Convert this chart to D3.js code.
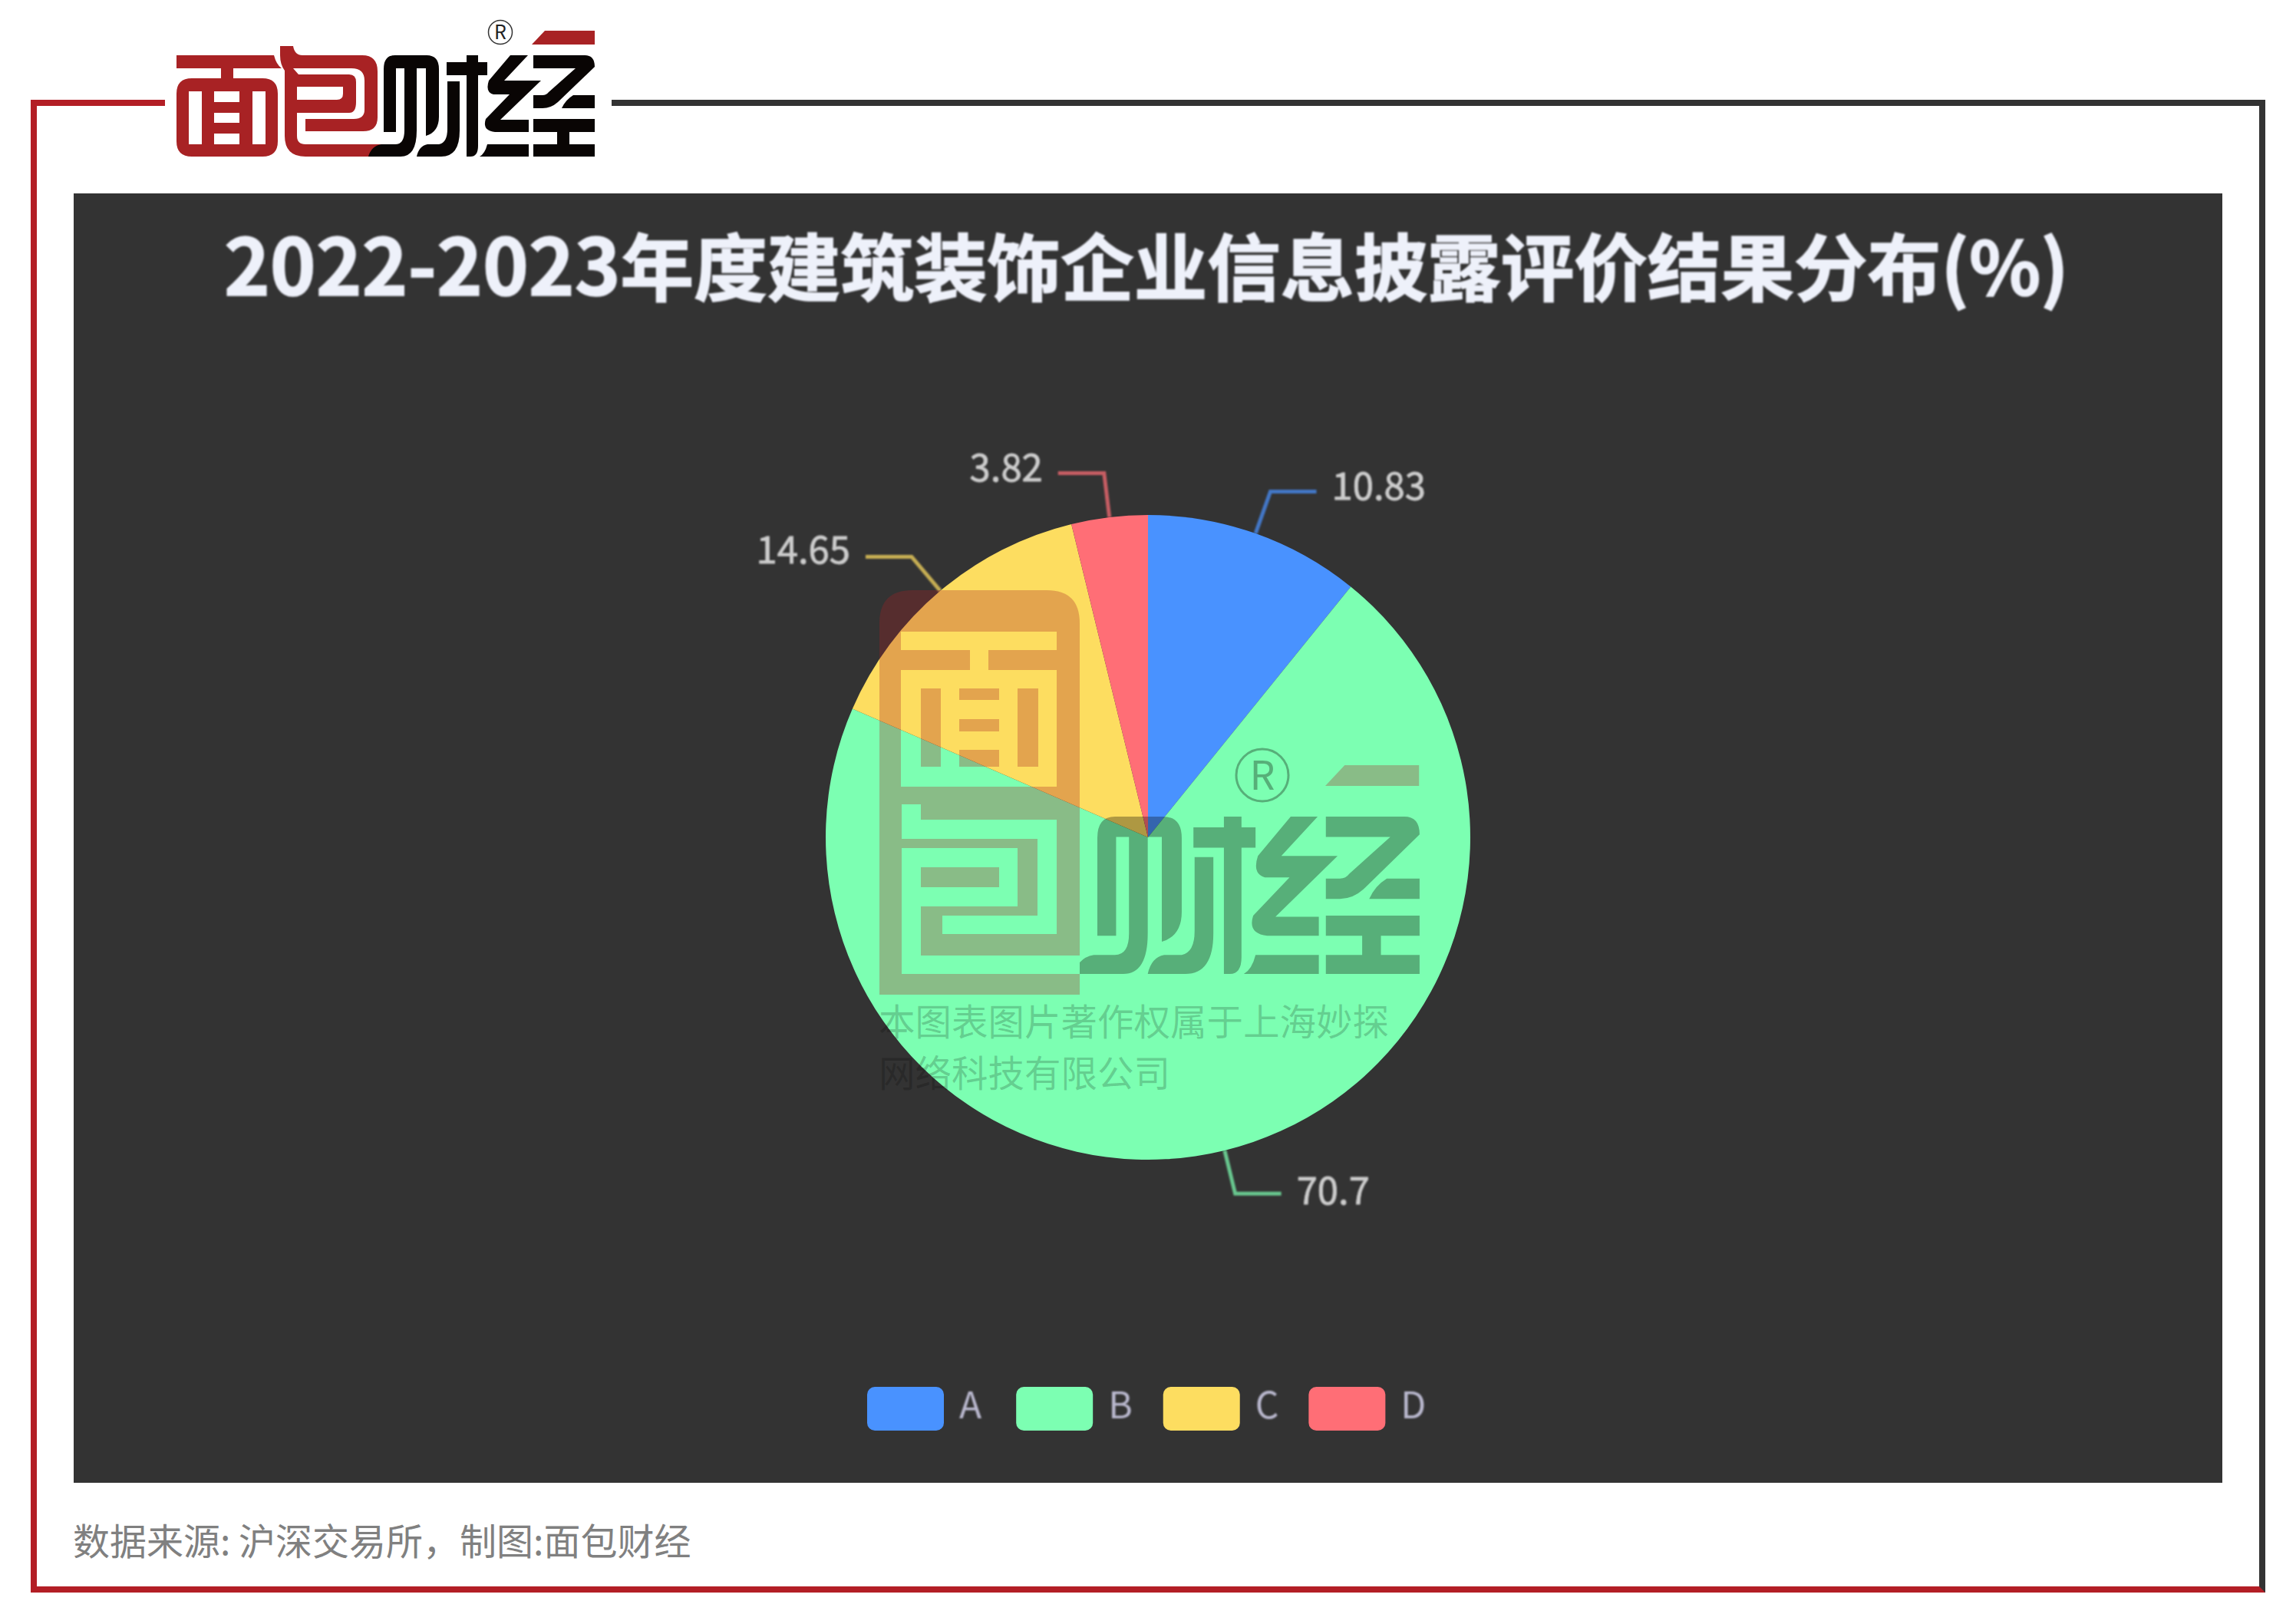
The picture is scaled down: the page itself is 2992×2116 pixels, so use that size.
<!DOCTYPE html>
<html>
<head>
<meta charset="utf-8">
<script src="https://cdn.jsdelivr.net/npm/d3@7"></script>
<style>
html,body{margin:0;padding:0;background:#fff}
svg{display:block}
text{font-family:"Noto Sans CJK SC","Noto Sans",sans-serif}
</style>
</head>
<body>
<div id="chart"></div>
<script>
const titleYears = "2022-2023";
const titleMain = "年度建筑装饰企业信息披露评价结果分布";
const titleUnit = "(%)";
const categories = ["A", "B", "C", "D"];
const seriesValues = [10.83, 70.7, 14.65, 3.82];
const sliceColors = ["#4992ff", "#7cffb2", "#fddd60", "#ff6e76"];
const sourceNote = "数据来源: 沪深交易所，制图:面包财经";
const watermarkLines = ["本图表图片著作权属于上海妙探", "网络科技有限公司"];

// Style tweaks, kept apart from the data
const labelNudge = [0, 3, -3, 0];
const legendGaps = [46, 41, 40, 0];

// Logo glyph outlines (brand artwork)
const glyphMian = "M230,72 H357 Q360,84 367,89 H304 V102 H342 Q362,102 362,122 V184 Q362,204 342,204 H250 Q230,204 230,184 V122 Q230,102 250,102 H288 V89 H230 Z " +
  "M246,119 H263 V188 H246 Z M279,119 H312 V133 H279 Z M279,147 H312 V160 H279 Z M279,174 H312 V188 H279 Z M329,119 H346 V188 H329 Z";
const glyphBao = "M365,60 H382 Q384,72 394,72 H472 Q492,72 492,93 V153 Q492,171 473,171 H398 V155 H461 Q475,155 475,143 V105 Q475,89 458,89 H382 L389,97 H455 Q464,97 464,107 V133 Q464,147 455,147 H387 V177 Q387,188 398,188 H515 V204 H398 Q371,204 371,177 V92 Q365,84 365,72 Z " +
  "M387,113 H447 V122 Q447,130 439,130 H387 Z";
const glyphCaiJing = [
  "M500,172 V90 Q500,72 515,72 H556 Q572,72 572,90 V152 Q572,172 555,177 V89 H543 V170 Q543,204 522,204 H480 Q484,190 497,188 H515 Q527,188 527,170 V89 H516 V172 Z",
  "M583,106 H599 V170 Q599,204 575,204 H543 Q546,190 557,188 H572 Q583,186 583,168 Z",
  "M608,72 H623 V81 H635 V98 H623 V190 Q623,204 613,204 H608 V98 H582 V81 H608 Z",
  "M665,72 H688 L657,105 H705 L652,156 H689 V172 H645 Q628,170 633,155 L664,123 H643 Q632,120 637,105 Z",
  "M635,188 H689 V204 H625 Q632,200 635,188 Z",
  "M695,72 H762 Q775,72 775,87 L727,133 Q718,141 707,141 H695 V124 H707 Q712,124 715,120 L750,89 H695 Z",
  "M747,124 H775 V141 H732 Q737,130 747,124 Z",
  "M695,155 H775 V172 H742 V188 H775 V204 H695 V188 H726 V172 H695 Z"
].join(" ");
const glyphSlash = "M693,58 L710,40 H775 V58 Z";

// Watermark cut-outs: square-cornered variants of the two left glyphs
const cutMian = "M1174,823 H1377 V847 H1288 V873 H1377 V1025 H1174 V873 H1264 V847 H1174 Z " +
  "M1200,897 H1226 V999 H1200 Z M1250,897 H1302 V912 H1250 Z M1250,937 H1302 V953 H1250 Z M1250,977 H1302 V999 H1250 Z M1326,897 H1353 V999 H1326 Z";
const cutBao = "M1175,1048 H1200 V1068 H1377 V1217 H1228 V1193 H1352 V1093 H1175 Z " +
  "M1175,1105 H1326 V1181 H1200 V1245 H1407 V1269 H1175 Z M1200,1130 V1156 H1302 V1130 Z";

const W = 2992, H = 2116;
const RED = "#b31e25", DARK = "#333333", LOGORED = "#a82224", LOGOBLACK = "#090504";

const svg = d3.select("#chart").append("svg").attr("width", W).attr("height", H).attr("viewBox", `0 0 ${W} ${H}`);
const defs = svg.append("defs");
const soft = defs.append("filter").attr("id", "soft").attr("x", "-5%").attr("y", "-20%").attr("width", "110%").attr("height", "140%");
soft.append("feGaussianBlur").attr("stdDeviation", 1.1);

svg.append("rect").attr("width", W).attr("height", H).attr("fill", "#fff");

// Frame
const frame = svg.append("g");
frame.append("rect").attr("x", 797).attr("y", 130).attr("width", 2155).attr("height", 8).attr("fill", DARK);
frame.append("rect").attr("x", 2944).attr("y", 130).attr("width", 8).attr("height", 1945).attr("fill", DARK);
frame.append("rect").attr("x", 40).attr("y", 130).attr("width", 175).attr("height", 8).attr("fill", RED);
frame.append("rect").attr("x", 40).attr("y", 130).attr("width", 8).attr("height", 1945).attr("fill", RED);
frame.append("path").attr("d", "M40,2067 H2944 L2952,2075 H40 Z").attr("fill", RED);

// Header logo
const logo = svg.append("g");
logo.append("path").attr("d", glyphMian).attr("fill", LOGORED).attr("fill-rule", "evenodd");
logo.append("path").attr("d", glyphBao).attr("fill", LOGORED).attr("fill-rule", "evenodd");
logo.append("path").attr("d", glyphSlash).attr("fill", LOGORED);
logo.append("path").attr("d", glyphCaiJing).attr("fill", LOGOBLACK);
logo.append("circle").attr("cx", 652).attr("cy", 42).attr("r", 15.5).attr("fill", "none").attr("stroke", "#333").attr("stroke-width", 1.5);
logo.append("text").attr("x", 652).attr("y", 51).attr("text-anchor", "middle").attr("font-size", 25).attr("fill", "#222").text("R");

// Dark panel
svg.append("rect").attr("x", 96).attr("y", 252).attr("width", 2800).attr("height", 1680).attr("fill", DARK);

const titleEl = svg.append("text").attr("x", 1494).attr("y", 385).attr("text-anchor", "middle")
  .attr("font-weight", 700).attr("fill", "#eef1fa")
  .attr("stroke", "#eef1fa").attr("stroke-width", 1.6)
  .attr("filter", "url(#soft)");
titleEl.append("tspan").attr("font-size", 101.5).text(titleYears);
titleEl.append("tspan").attr("font-size", 95.6).text(titleMain);
titleEl.append("tspan").attr("font-size", 97).text(titleUnit);

// Pie
const cx = 1496, cy = 1091, R = 420, bendR = 478, runLen = 60, labelGap = 20;
const pieGen = d3.pie().sort(null).value(d => d);
const arcs = pieGen(seriesValues);
const arcGen = d3.arc().innerRadius(0).outerRadius(R);
const pieG = svg.append("g").attr("transform", `translate(${cx},${cy})`);

pieG.selectAll("path.slice").data(arcs).join("path").attr("class", "slice")
  .attr("d", arcGen).attr("fill", (d, i) => sliceColors[i]);

function polar(r, a) { return [r * Math.sin(a), -r * Math.cos(a)]; }
const lineGen = d3.line();
arcs.forEach((d, i) => {
  const mid = (d.startAngle + d.endAngle) / 2;
  const p0 = polar(R, mid), p1 = polar(bendR, mid);
  const dir = p1[0] >= 0 ? 1 : -1;
  const p2 = [p1[0] + dir * runLen, p1[1]];
  pieG.append("path").attr("d", lineGen([p0, p1, p2])).attr("fill", "none")
    .attr("stroke", sliceColors[i]).attr("stroke-opacity", 0.72).attr("stroke-width", 5)
    .attr("filter", "url(#soft)");
  pieG.append("text").attr("x", p2[0] + dir * labelGap).attr("y", p1[1] + 11 + labelNudge[i])
    .attr("text-anchor", dir > 0 ? "start" : "end").attr("font-size", 49)
    .attr("fill", "#cccccc").attr("stroke", "#cccccc").attr("stroke-width", 0.8)
    .attr("filter", "url(#soft)").text(seriesValues[i]);
});

// Legend
const legend = svg.append("g");
let lx = 1130;
categories.forEach((c, i) => {
  legend.append("rect").attr("x", lx).attr("y", 1807).attr("width", 100).attr("height", 57).attr("rx", 10)
    .attr("fill", sliceColors[i]);
  const t = legend.append("text").attr("x", lx + 120).attr("y", 1848).attr("font-size", 48)
    .attr("fill", "#b9b8ce").attr("filter", "url(#soft)").text(c);
  lx += 120 + t.node().getComputedTextLength() + legendGaps[i] - 1;
});

// Watermark
const bx0 = 1146, bx1 = 1407, by0 = 769, by1 = 1296, br = 43;
const mask = defs.append("mask").attr("id", "wmMask").attr("maskUnits", "userSpaceOnUse")
  .attr("x", 0).attr("y", 0).attr("width", W).attr("height", H);
mask.append("rect").attr("width", W).attr("height", H).attr("fill", "#fff");
mask.append("path").attr("d", cutMian).attr("fill", "#000").attr("fill-rule", "evenodd");
mask.append("path").attr("d", cutBao).attr("fill", "#000").attr("fill-rule", "evenodd");

const clip = defs.append("clipPath").attr("id", "wmRight");
clip.append("rect").attr("x", bx1).attr("y", 0).attr("width", W - bx1).attr("height", H);

const wm = svg.append("g");
wm.append("path").attr("mask", "url(#wmMask)").attr("fill", LOGORED).attr("fill-opacity", 0.3)
  .attr("d", `M${bx0},${by1} V${by0 + br} Q${bx0},${by0} ${bx0 + br},${by0} H${bx1 - br} Q${bx1},${by0} ${bx1},${by0 + br} V${by1} Z`);
wm.append("g").attr("clip-path", "url(#wmRight)").append("path").attr("d", glyphCaiJing)
  .attr("fill", LOGOBLACK).attr("fill-opacity", 0.32)
  .attr("transform", "translate(1430,1064) scale(1.527,1.553) translate(-500,-72)");
wm.append("path").attr("d", glyphSlash).attr("fill", LOGORED).attr("fill-opacity", 0.3)
  .attr("transform", "translate(1727,997) scale(1.49,1.5) translate(-693,-40)");
wm.append("circle").attr("cx", 1645).attr("cy", 1010).attr("r", 34).attr("fill", "none")
  .attr("stroke", LOGOBLACK).attr("stroke-opacity", 0.32).attr("stroke-width", 3);
wm.append("text").attr("x", 1645).attr("y", 1029).attr("text-anchor", "middle").attr("font-size", 52)
  .attr("fill", LOGOBLACK).attr("fill-opacity", 0.32).text("R");
watermarkLines.forEach((line, i) => {
  wm.append("text").attr("x", 1145).attr("y", 1349 + i * 67).attr("font-size", 47.5)
    .attr("fill", "#000").attr("fill-opacity", 0.2).text(line);
});

// Source note
svg.append("text").attr("x", 95).attr("y", 2026).attr("font-size", 48).attr("fill", "#808080").text(sourceNote);
</script>
</body>
</html>
